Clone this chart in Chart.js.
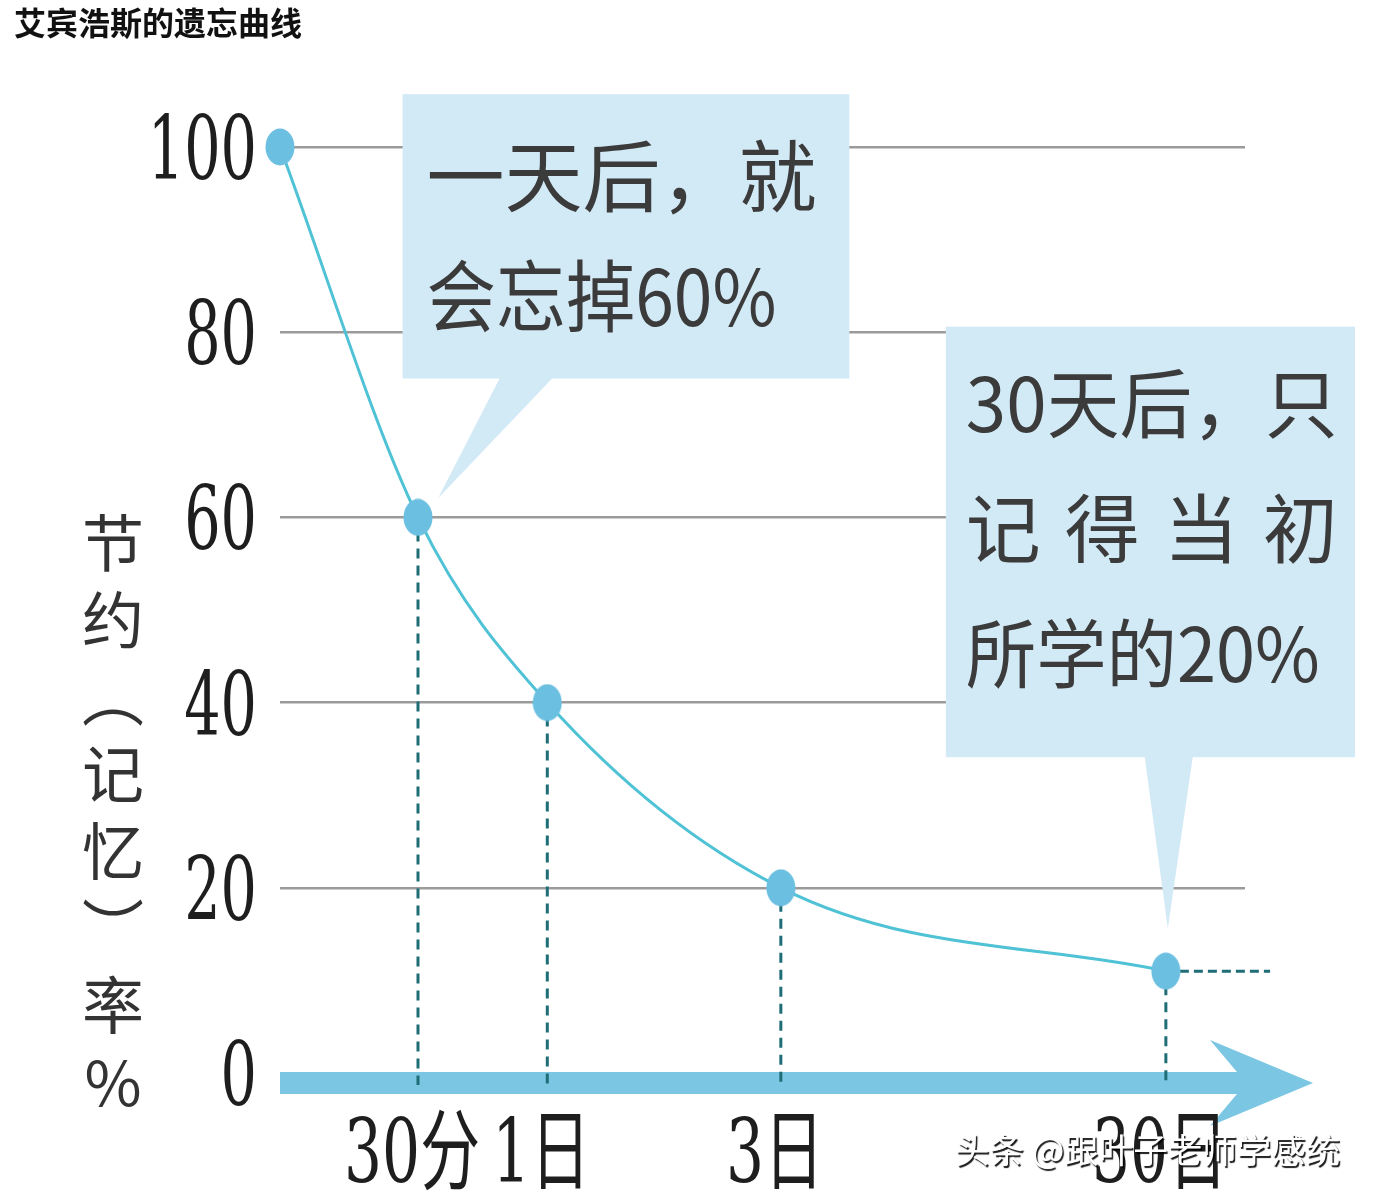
<!DOCTYPE html>
<html lang="zh-CN">
<head>
<meta charset="UTF-8">
<title>艾宾浩斯的遗忘曲线</title>
<script src="https://cdn.jsdelivr.net/npm/chart.js@4"></script>
<style>
  body { margin: 0; background: #fff; }
  canvas { display: block; }
</style>
</head>
<body>
<canvas id="forgetChart" width="1378" height="1200"></canvas>
<script>
// values
const timeLabels = ['', '30分', '1日', '3日', '30日'];
const timePos = [0, 1.43, 2.77, 5.19, 9.18];   // spot of each moment on the (not to scale) time axis
const retention = [100, 60, 40, 20, 11];
const yTicks = [0, 20, 40, 60, 80, 100];
const tailEndPos = 10.26;                       // dashed run after 30日
const yTitleChars = ['节', '约', '︵', '记', '忆', '︶', '率', '%'];
const chartTitle = '艾宾浩斯的遗忘曲线';
const watermark = '头条 @跟叶子老师学感统';

// speech bubbles, placed in axis units; fit = width each line takes in the picture
const callouts = [
    { lines: ['一天后，就', '会忘掉60%'], justify: [false, false], fit: [398, 350],
      x0: 1.27, x1: 5.9, y0: 105.7, y1: 75.0, base: [2.28, 2.83], tip: [1.64, 62.1],
      size: 78, firstLine: 82, lineGap: 120, padLeft: 24 },
    { lines: ['30天后，只', '记得当初', '所学的20%'], justify: [false, true, false], fit: [372, 372, 354],
      x0: 6.9, x1: 11.14, y0: 80.6, y1: 34.1, base: [8.96, 9.46], tip: [9.2, 15.6],
      size: 75, firstLine: 77, lineGap: 125, padLeft: 20 }
];

const CJK = '"Noto Sans CJK SC", "Noto Sans", sans-serif';
const SERIF = '"DejaVu Serif", "Liberation Serif", serif';

// points are slightly tall ovals in the picture
function ovalPoint() {
    const c = document.createElement('canvas');
    c.width = 30; c.height = 38;
    const g = c.getContext('2d');
    g.fillStyle = '#6bbfe1';
    g.beginPath();
    g.ellipse(15, 19, 14.5, 18.5, 0, 0, Math.PI * 2);
    g.fill();
    return c;
}

function condensedText(ctx, text, px, py, sx) {
    ctx.save();
    ctx.translate(px, py);
    ctx.scale(sx, 1);
    ctx.fillText(text, 0, 0);
    ctx.restore();
}

const decorPlugin = {
    id: 'decor',
    beforeDatasetsDraw(chart) {
        const { ctx, scales: { x, y } } = chart;
        ctx.save();

        // bubbles
        callouts.forEach(c => {
            const l = x.getPixelForValue(c.x0), r = x.getPixelForValue(c.x1);
            const t = y.getPixelForValue(c.y0), b = y.getPixelForValue(c.y1);
            ctx.fillStyle = '#d2e9f6';
            ctx.fillRect(l, t, r - l, b - t);
            ctx.beginPath();
            ctx.moveTo(x.getPixelForValue(c.base[0]), b - 1);
            ctx.lineTo(x.getPixelForValue(c.tip[0]), y.getPixelForValue(c.tip[1]));
            ctx.lineTo(x.getPixelForValue(c.base[1]), b - 1);
            ctx.closePath();
            ctx.fill();
        });

        // thick time axis with arrow head
        const y0 = y.getPixelForValue(0);
        const headStart = x.right - 35, tip = x.right + 68;
        ctx.fillStyle = '#7bc6e2';
        ctx.beginPath();
        ctx.moveTo(x.left, y0 - 1);
        ctx.lineTo(headStart + 27, y0 - 1);
        ctx.lineTo(headStart, y0 - 33);
        ctx.lineTo(tip, y0 + 10);
        ctx.lineTo(headStart, y0 + 53);
        ctx.lineTo(headStart + 27, y0 + 21);
        ctx.lineTo(x.left, y0 + 21);
        ctx.closePath();
        ctx.fill();

        // dashed drops from each point to the axis
        ctx.strokeStyle = '#1f6d77';
        ctx.lineWidth = 3;
        ctx.setLineDash([10, 7]);
        for (let i = 1; i < timePos.length; i++) {
            const px = x.getPixelForValue(timePos[i]);
            ctx.beginPath();
            ctx.moveTo(px, y.getPixelForValue(retention[i]) + 14);
            ctx.lineTo(px, y0 + 12);
            ctx.stroke();
        }
        ctx.restore();
    },
    afterDraw(chart) {
        const { ctx, scales: { x, y } } = chart;
        ctx.save();

        // y tick labels (condensed serif digits)
        ctx.fillStyle = '#1e1e1e';
        ctx.font = '88px ' + SERIF;
        ctx.textAlign = 'right';
        ctx.textBaseline = 'alphabetic';
        yTicks.forEach(v => {
            condensedText(ctx, String(v), 257, y.getPixelForValue(v) + 32, 0.65);
        });

        // x tick labels
        ctx.textAlign = 'center';
        ctx.font = '88px ' + SERIF + ', ' + CJK;
        for (let i = 1; i < timeLabels.length; i++) {
            condensedText(ctx, timeLabels[i], x.getPixelForValue(timePos[i]) - 6, 1182, 0.68);
        }

        // vertical y title
        ctx.fillStyle = '#333';
        ctx.font = '62px ' + CJK;
        ctx.textBaseline = 'middle';
        yTitleChars.forEach((ch, i) => {
            ctx.fillText(ch, 113, 543 + i * 77);
        });

        // bubble text
        ctx.fillStyle = '#3b3b3b';
        ctx.textAlign = 'left';
        callouts.forEach(c => {
            const l = x.getPixelForValue(c.x0) + c.padLeft;
            const t = y.getPixelForValue(c.y0);
            ctx.font = c.size + 'px ' + CJK;
            c.lines.forEach((line, i) => {
                const py = t + c.firstLine + i * c.lineGap;
                if (c.justify[i]) {
                    const chars = [...line];
                    const cw = ctx.measureText(chars[0]).width;
                    const step = (c.fit[i] - cw) / (chars.length - 1);
                    chars.forEach((ch, k) => ctx.fillText(ch, l + k * step, py));
                } else {
                    const w = ctx.measureText(line).width;
                    condensedText(ctx, line, l, py, Math.min(1, c.fit[i] / w));
                }
            });
        });

        // title
        ctx.fillStyle = '#111';
        ctx.font = 'bold 32px ' + CJK;
        ctx.fillText(chartTitle, 14, 23);

        // watermark
        ctx.font = '34.5px ' + CJK;
        ctx.fillStyle = '#fff';
        ctx.shadowColor = 'rgba(0,0,0,0.9)';
        ctx.shadowOffsetX = 1.5;
        ctx.shadowOffsetY = 1.5;
        ctx.shadowBlur = 1;
        ctx.fillText(watermark, 955, 1150);
        ctx.restore();
    }
};

new Chart(document.getElementById('forgetChart'), {
    type: 'line',
    data: {
        datasets: [
            {
                data: timePos.map((t, i) => ({ x: t, y: retention[i] })),
                borderColor: '#4fc2d6',
                borderWidth: 3,
                cubicInterpolationMode: 'monotone',
                pointStyle: ovalPoint(),
                pointRadius: 16,
                clip: false,
                order: 0
            },
            {
                data: [{ x: timePos[4], y: retention[4] }, { x: tailEndPos, y: retention[4] }],
                borderColor: '#1f6d77',
                borderDash: [9, 5],
                borderWidth: 3,
                pointRadius: 0,
                clip: false,
                order: 1
            }
        ]
    },
    options: {
        responsive: false,
        animation: false,
        events: [],
        layout: { padding: { top: 147, right: 133, left: 0, bottom: 0 } },
        plugins: { legend: { display: false }, tooltip: { enabled: false } },
        scales: {
            x: {
                type: 'linear', min: 0, max: 10,
                grid: { display: false },
                border: { display: false },
                ticks: { display: false },
                afterFit(s) { s.height = 127; }
            },
            y: {
                min: 0, max: 100,
                afterBuildTicks(s) { s.ticks = yTicks.map(v => ({ value: v })); },
                grid: {
                    color: c => c.tick && c.tick.value === 0 ? 'rgba(0,0,0,0)' : '#9b9b9b',
                    lineWidth: 2.5,
                    drawTicks: false
                },
                border: { display: false },
                ticks: { display: false },
                afterFit(s) { s.width = 280; }
            }
        }
    },
    plugins: [decorPlugin]
});
</script>
</body>
</html>
